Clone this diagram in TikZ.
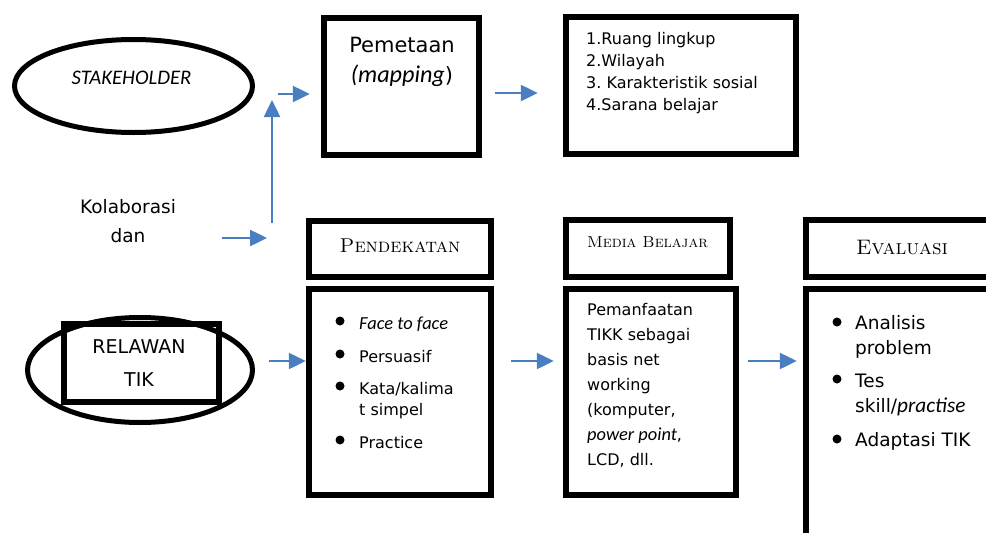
\documentclass[tikz,border=0pt]{standalone}
\usepackage{fontspec}
\setsansfont{DejaVu Sans}
\newfontfamily\carlito{Carlito}[Scale=1.15]
\newcommand{\kursif}[1]{{\carlito\itshape #1}}
\usetikzlibrary{positioning,arrows.meta,shapes.geometric}
\definecolor{birupanah}{RGB}{74,126,193}

\begin{document}
\begin{tikzpicture}[x=1pt, y=-1pt,
  kotak/.style={draw, line width=6.5pt, inner sep=0pt},
  lonjong/.style={ellipse, draw, line width=5pt, inner sep=0pt},
  isi/.style={font=\sffamily\fontsize{16}{21}\selectfont, anchor=base west,
              inner sep=0pt},
  isibesar/.style={isi, font=\sffamily\fontsize{18.5}{24}\selectfont},
  judul/.style={font=\rmfamily\scshape\fontsize{#1}{#1}\selectfont,
                anchor=base, inner sep=0pt},
  titik/.style={circle, fill, inner sep=0pt, minimum size=9pt},
  panah/.style={-{Triangle[length=17pt,width=16pt]}, line width=2.5pt,
                color=birupanah}]
  \useasboundingbox (0,0) rectangle (986,533);
  \clip (0,0) rectangle (986,533);
  % Stakeholder dan relawan
  \node[lonjong, minimum width=238pt, minimum height=93pt]
       (stakeholder) at (133.5,86) {};
  \node[font=\fontsize{18}{18}\selectfont, anchor=base, inner sep=0pt]
       (tstakeholder) at (131.5,84) {\kursif{STAKEHOLDER}};
  \node[lonjong, minimum width=225pt, minimum height=105pt]
       (relawan) at (140,370) {};
  \node[kotak, minimum width=155pt, minimum height=78pt]
       (krelawan) at (141.5,363) {};
  \node[font=\sffamily\fontsize{19}{33}\selectfont, align=center, anchor=north,
        inner sep=0pt] (trelawan) at (139,339) {RELAWAN\\TIK};
  \node[font=\sffamily\fontsize{18.5}{29}\selectfont, align=center,
        anchor=north, inner sep=0pt] (kolab) at (128,199) {Kolaborasi\\dan};
  % Pemetaan
  \node[kotak, minimum width=155pt, minimum height=137pt]
       (pemetaan) at (401.5,86.5) {};
  \node[font=\sffamily\fontsize{21}{30}\selectfont, align=center,
        anchor=north, inner sep=0pt] (tpemetaan) at (402,36.5)
       {Pemetaan\\\kursif{(mapping})};
  \node[kotak, minimum width=230pt, minimum height=137pt]
       (daftar) at (681,85.5) {};
  \foreach \teks [count=\i] in {1.Ruang lingkup, 2.Wilayah,
      3.\ Karakteristik sosial, 4.Sarana belajar}
    \node[isi] (daftar-\i) at (586,22+22*\i) {\teks};
  % Pendekatan
  \node[kotak, minimum width=182pt, minimum height=56pt]
       (jpendekatan) at (400,249) {};
  \node[judul=20] (tpendekatan) at (400,252) {Pendekatan};
  \node[kotak, minimum width=182pt, minimum height=206pt]
       (pendekatan) at (400,392) {};
  \foreach \teks/\yb [count=\i] in {\kursif{Face to face}/329, Persuasif/362,
      {Kata/kalima}/394, t simpel/415, Practice/448}
    \node[isi] (pendekatan-\i) at (359,\yb) {\teks};
  \foreach \yb [count=\i] in {321,354,386,440}
    \node[titik] (tp-\i) at (340,\yb) {};
  % Media belajar
  \node[kotak, minimum width=164pt, minimum height=57pt]
       (jmedia) at (648,248.5) {};
  \node[judul=16] (tmedia) at (647.5,247) {Media Belajar};
  \node[kotak, minimum width=170pt, minimum height=206pt]
       (media) at (651,392) {};
  \foreach \teks [count=\i] in {Pemanfaatan, TIKK sebagai, basis net,
      working, {(komputer,}, {\kursif{power point},}, {LCD, dll.}}
    \node[isi] (media-\i) at (587,290+25*\i) {\teks};
  % Evaluasi
  \node[kotak, minimum width=204pt, minimum height=57pt]
       (jevaluasi) at (908,248.5) {};
  \node[judul=21] (tevaluasi) at (902,254) {Evaluasi};
  \node[kotak, minimum width=204pt, minimum height=291pt]
       (evaluasi) at (908,434.5) {};
  \foreach \teks/\yb [count=\i] in {Analisis/329, problem/354, Tes/387,
      {skill/\kursif{practise}}/412, Adaptasi TIK/446}
    \node[isibesar] (evaluasi-\i) at (855,\yb) {\teks};
  \foreach \yb [count=\i] in {322,379,439}
    \node[titik] (te-\i) at (837,\yb) {};
  % Panah
  \coordinate (masuk) at (267,238);
  \coordinate (tiang) at (272,223);
  \coordinate (puncak) at (272,100);
  \coordinate (cabang) at (278,94);
  \draw[panah] ([xshift=46pt]kolab.east |- masuk) -- (masuk);
  \draw[panah] (tiang) -- (puncak);
  \draw[panah] (cabang) -- ([xshift=-11pt,yshift=-7.5pt]pemetaan.west);
  \draw[panah] ([xshift=13pt,yshift=-6.5pt]pemetaan.east)
    -- ([xshift=-25pt,yshift=-7.5pt]daftar.west);
  \draw[panah] ([xshift=14pt,yshift=9pt]relawan.east)
    -- ([yshift=31pt]pendekatan.west);
  \draw[panah] ([xshift=17pt,yshift=31pt]pendekatan.east)
    -- ([xshift=-9pt,yshift=31pt]media.west);
  \draw[panah] ([xshift=9pt,yshift=31pt]media.east)
    -- ([xshift=-6pt,yshift=73.5pt]evaluasi.west);
\end{tikzpicture}
\end{document}
